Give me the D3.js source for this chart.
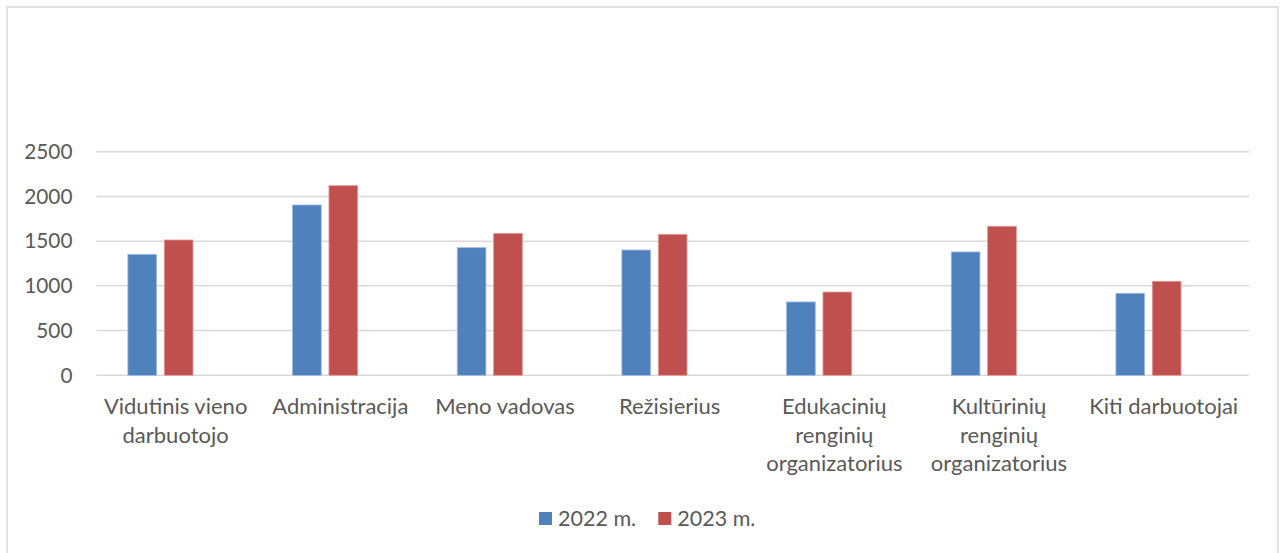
<!DOCTYPE html>
<html>
<head>
<meta charset="utf-8">
<script src="https://cdn.jsdelivr.net/npm/d3@7"></script>
<style>
  body { margin: 0; background: #fff; }
  text { font-family: Lato, "Open Sans", sans-serif; fill: #595959; }
</style>
</head>
<body>
<script>
var width = 1283, height = 553;

// data
var categories = ["Vidutinis vieno darbuotojo", "Administracija", "Meno vadovas", "Režisierius",
  "Edukacinių renginių organizatorius", "Kultūrinių renginių organizatorius", "Kiti darbuotojai"];
var categoryLines = [["Vidutinis vieno", "darbuotojo"], ["Administracija"], ["Meno vadovas"], ["Režisierius"],
  ["Edukacinių", "renginių", "organizatorius"], ["Kultūrinių", "renginių", "organizatorius"], ["Kiti darbuotojai"]];
var series = ["2022 m.", "2023 m."];
var values2022 = [1352, 1904, 1427, 1401, 820, 1379, 917];
var values2023 = [1513, 2120, 1587, 1576, 931, 1666, 1051];
var yTicks = [0, 500, 1000, 1500, 2000, 2500];
var colors = ["#4F81BD", "#C0504D"];
var strokes = ["#9dbbe0", "#e39a98"];

var margin = {top: 151.7, right: 34, bottom: 177.7, left: 96.3};

var svg = d3.select("body").append("svg")
  .attr("width", width)
  .attr("height", height);

// chart border
svg.append("rect")
  .attr("x", 7).attr("y", 7)
  .attr("width", 1271).attr("height", 560)
  .attr("fill", "none")
  .attr("stroke", "#d9d9d9")
  .attr("stroke-width", 1.5);

var x0 = d3.scaleBand()
  .domain(categories)
  .range([margin.left, width - margin.right]);

// third slot is an empty series kept by the original spreadsheet
var x1 = d3.scaleBand()
  .domain(series.concat(["_"]))
  .range([0, x0.bandwidth()])
  .paddingInner(0.2115)
  .paddingOuter(0.868);

var y = d3.scaleLinear()
  .domain([0, 2500])
  .range([height - margin.bottom, margin.top]);

// gridlines
svg.append("g")
  .selectAll("line")
  .data(yTicks)
  .enter().append("line")
  .attr("x1", margin.left)
  .attr("x2", width - margin.right)
  .attr("y1", function(d){ return y(d); })
  .attr("y2", function(d){ return y(d); })
  .attr("stroke", "#d9d9d9")
  .attr("stroke-width", 1.5);

// y labels
svg.append("g")
  .selectAll("text")
  .data(yTicks)
  .enter().append("text")
  .attr("x", 72.5)
  .attr("y", function(d){ return y(d); })
  .attr("dy", "0.35em")
  .attr("text-anchor", "end")
  .style("font-size", "20.8px")
  .text(function(d){ return d; });

// bars
var rows = categories.map(function(c, i){
  return {cat: c, vals: [values2022[i], values2023[i]]};
});

var groups = svg.selectAll(".cat")
  .data(rows)
  .enter().append("g")
  .attr("class", "cat")
  .attr("transform", function(d){ return "translate(" + x0(d.cat) + ",0)"; });

groups.selectAll("rect")
  .data(function(d){ return d.vals.map(function(v, j){ return {key: series[j], value: v, j: j}; }); })
  .enter().append("rect")
  .attr("x", function(d){ return x1(d.key); })
  .attr("width", x1.bandwidth())
  .attr("y", function(d){ return y(d.value); })
  .attr("height", function(d){ return y(0) - y(d.value); })
  .attr("fill", function(d){ return colors[d.j]; })
  .attr("stroke", function(d){ return strokes[d.j]; })
  .attr("stroke-width", 0.8);

// category labels
svg.append("g")
  .selectAll("text")
  .data(categories)
  .enter().append("text")
  .attr("x", function(d){ return x0(d) + x0.bandwidth() / 2 - 3; })
  .attr("y", 414)
  .attr("text-anchor", "middle")
  .style("font-size", "22px")
  .each(function(d, i){
    var t = d3.select(this);
    categoryLines[i].forEach(function(line, k){
      t.append("tspan")
        .attr("x", x0(d) + x0.bandwidth() / 2 - 3)
        .attr("dy", k === 0 ? 0 : 28.5)
        .text(line);
    });
  });

// legend
var legendX = [539, 658.3];
var legend = svg.append("g");
series.forEach(function(s, i){
  legend.append("rect")
    .attr("x", legendX[i]).attr("y", 512)
    .attr("width", 13).attr("height", 13)
    .attr("fill", colors[i]);
  legend.append("text")
    .attr("x", legendX[i] + 19).attr("y", 526)
    .style("font-size", "21.5px")
    .text(s);
});
</script>
</body>
</html>
